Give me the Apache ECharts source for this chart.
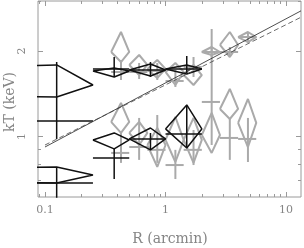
<!DOCTYPE html>
<html><head><meta charset="utf-8">
<script src="https://cdn.jsdelivr.net/npm/echarts@6/dist/echarts.min.js"></script>
<style>html,body{margin:0;padding:0;background:#fff}#c{width:304px;height:248px}</style>
</head><body><div id="c"></div>
<script>
// ---- tick values / labels ----
const xMajorTicks = [0.1, 1, 10];
const xMinorTicks = [0.09, 0.2, 0.3, 0.4, 0.5, 0.6, 0.7, 0.8, 0.9, 2, 3, 4, 5, 6, 7, 8, 9];
const yMajorTicks = [1, 2];
const yMinorTicks = [0.7, 0.8, 0.9, 3];
const xTitle = 'R (arcmin)';
const yTitle = 'kT (keV)';

// ---- black data set (4 radial bins) ----
const blackR   = [0.125, 0.375, 0.75, 1.5];
const blackRLo = [0, 0.25, 0.5, 1.0];
const blackRHi = [0.25, 0.5, 1.0, 2.0];
const blackHotDiamond   = [1.518, 1.70, 1.715, 1.729];
const blackHotDiamondLo = [1.377, 1.62, 1.633, 1.66];
const blackHotDiamondHi = [1.786, 1.743, 1.80, 1.786];
const blackHotCross   = [1.134, 1.729, 1.715, 1.729];
const blackHotCrossLo = [0.98, 1.62, 1.62, 1.673];
const blackHotCrossHi = [1.83, 1.905, 1.829, 1.92];
const blackCoolDiamond   = [0.732, 0.972, 0.98, 1.063];
const blackCoolDiamondLo = [0.686, 0.904, 0.897, 0.911];
const blackCoolDiamondHi = [0.781, 1.029, 1.071, 1.291];
const blackCoolCross   = [0.686, 0.840, 0.98, 1.02];
const blackCoolCrossLo = [0.5, 0.708, 0.904, 0.911];
const blackCoolCrossHi = [0.781, 0.904, 1.029, 1.28];

// ---- grey data set (8 radial bins) ----
const grayR   = [0.427, 0.604, 0.854, 1.207, 1.707, 2.414, 3.414, 4.828];
const grayRLo = [0.354, 0.5, 0.707, 1.0, 1.414, 2.0, 2.828, 4.0];
const grayRHi = [0.5, 0.707, 1.0, 1.414, 2.0, 2.828, 4.0, 5.657];
const grayHotDiamond   = [1.984, 1.786, 1.729, 1.687, 1.646, 1.984, 2.10, 2.24];
const grayHotDiamondLo = [1.829, 1.646, 1.607, 1.518, 1.518, 1.936, 1.905, 2.151];
const grayHotDiamondHi = [2.333, 1.936, 1.859, 1.815, 1.786, 2.066, 2.333, 2.333];
const grayHotCross   = [1.687, 1.687, 1.701, 1.568, 1.757, 1.984, 1.984, 2.24];
const grayHotCrossLo = [1.581, 1.594, 1.581, 1.494, 1.62, 1.905, 1.905, 2.151];
const grayHotCrossHi = [1.859, 1.815, 1.815, 1.715, 1.905, 2.066, 2.066, 2.333];
const grayCoolDiamond   = [1.125, 1.029, 0.933, 0.972, 0.972, 1.012, 1.25, 1.116];
const grayCoolDiamondLo = [1.029, 0.933, 0.781, 0.813, 0.807, 0.875, 1.152, 0.918];
const grayCoolDiamondHi = [1.312, 1.125, 1.071, 1.171, 1.162, 1.21, 1.47, 1.355];
const grayCoolCross   = [0.875, 0.918, 0.897, 0.793, 0.897, 1.323, 0.988, 0.98];
const grayCoolCrossLo = [0.807, 0.827, 0.807, 0.708, 0.793, 0.933, 0.827, 0.813];
const grayCoolCrossHi = [1.029, 1.162, 1.19, 0.897, 1.054, 2.391, 1.152, 1.162];

// ---- fitted power laws ----
const fitR = [0.1, 13.3];
const fitSolid = [0.918, 2.77];
const fitDashed = [0.933, 2.63];

const BLACK = '#111111', GREY = '#aaaaaa', AXIS = '#9a9a9a', TEXT = '#858585';
const FONT = 'DejaVu Serif';
const FAR_LEFT = 1e-6; // a lower radius of 0 lies infinitely far left on a log axis

const series = [];
function path(pts, color, width, z, dash) {
  series.push({type: 'line', data: pts, symbol: 'none', clip: true, silent: true,
    animation: false, z: z, lineStyle: {color: color, width: width, type: dash || 'solid'}});
}
function lo(v) { return v > 0 ? v : FAR_LEFT; }
function diamonds(R, RLo, RHi, k, kLo, kHi, color, width, z) {
  for (let i = 0; i < R.length; i++) {
    path([[lo(RLo[i]), k[i]], [R[i], kHi[i]], [RHi[i], k[i]], [R[i], kLo[i]], [lo(RLo[i]), k[i]]], color, width, z);
  }
}
function crosses(R, RLo, RHi, k, kLo, kHi, color, width, z) {
  for (let i = 0; i < R.length; i++) {
    path([[lo(RLo[i]), k[i]], [RHi[i], k[i]]], color, width, z);
    path([[R[i], kLo[i]], [R[i], kHi[i]]], color, width, z);
  }
}
crosses(grayR, grayRLo, grayRHi, grayHotCross, grayHotCrossLo, grayHotCrossHi, GREY, 2, 2);
diamonds(grayR, grayRLo, grayRHi, grayHotDiamond, grayHotDiamondLo, grayHotDiamondHi, GREY, 2, 2);
crosses(grayR, grayRLo, grayRHi, grayCoolCross, grayCoolCrossLo, grayCoolCrossHi, GREY, 2, 2);
diamonds(grayR, grayRLo, grayRHi, grayCoolDiamond, grayCoolDiamondLo, grayCoolDiamondHi, GREY, 2, 2);
crosses(blackR, blackRLo, blackRHi, blackHotCross, blackHotCrossLo, blackHotCrossHi, BLACK, 1.5, 3);
diamonds(blackR, blackRLo, blackRHi, blackHotDiamond, blackHotDiamondLo, blackHotDiamondHi, BLACK, 1.5, 3);
crosses(blackR, blackRLo, blackRHi, blackCoolCross, blackCoolCrossLo, blackCoolCrossHi, BLACK, 1.5, 3);
diamonds(blackR, blackRLo, blackRHi, blackCoolDiamond, blackCoolDiamondLo, blackCoolDiamondHi, BLACK, 1.5, 3);
path(fitR.map((r, i) => [r, fitSolid[i]]), '#222', 0.8, 4);
path(fitR.map((r, i) => [r, fitDashed[i]]), '#444', 0.8, 4, [5, 3]);

const X_MIN = 0.0875, X_MAX = 13.3, Y_MIN = 0.612, Y_MAX = 3.0;
function xAx(pos, ticks, len, labels) {
  return {type: 'log', logBase: 10, min: X_MIN, max: X_MAX, position: pos,
    axisLine: {show: false}, splitLine: {show: false},
    axisTick: {show: true, inside: true, length: len, customValues: ticks, lineStyle: {color: AXIS, width: 1}},
    axisLabel: labels ? {show: true, customValues: ticks, margin: 8, color: TEXT, fontFamily: FONT, fontSize: 11,
      formatter: v => String(v)} : {show: false}};
}
function yAx(pos, ticks, len, labels) {
  return {type: 'log', logBase: 10, min: Y_MIN, max: Y_MAX, position: pos,
    axisLine: {show: false}, splitLine: {show: false},
    axisTick: {show: true, inside: true, length: len, customValues: ticks, lineStyle: {color: AXIS, width: 1}},
    axisLabel: labels ? {show: true, customValues: ticks, margin: 10, rotate: 90, color: TEXT, fontFamily: FONT, fontSize: 11,
      formatter: v => String(v)} : {show: false}};
}

const chart = echarts.init(document.getElementById('c'), null, {renderer: 'canvas'});
chart.setOption({
  animation: false,
  backgroundColor: '#ffffff',
  grid: {left: 38, right: 3, top: 1, bottom: 51, show: true, borderColor: AXIS, borderWidth: 1,
    backgroundColor: 'transparent', containLabel: false, outerBoundsMode: 'none'},
  xAxis: [
    xAx('bottom', xMajorTicks, 5, true),
    xAx('bottom', xMinorTicks, 3, false),
    xAx('top', xMajorTicks, 5, false),
    xAx('top', xMinorTicks, 3, false)
  ],
  yAxis: [
    yAx('left', yMajorTicks, 5, true),
    yAx('left', yMinorTicks, 3, false),
    yAx('right', yMajorTicks, 5, false),
    yAx('right', yMinorTicks, 3, false)
  ],
  graphic: [
    {type: 'text', x: 170, y: 239, style: {text: xTitle, fill: TEXT, font: '14px "DejaVu Serif"', align: 'center', verticalAlign: 'middle'}},
    {type: 'text', x: 10, y: 102, rotation: Math.PI / 2, style: {text: yTitle, fill: TEXT, font: '14px "DejaVu Serif"', align: 'center', verticalAlign: 'middle'}}
  ],
  series: series
});
</script></body></html>
